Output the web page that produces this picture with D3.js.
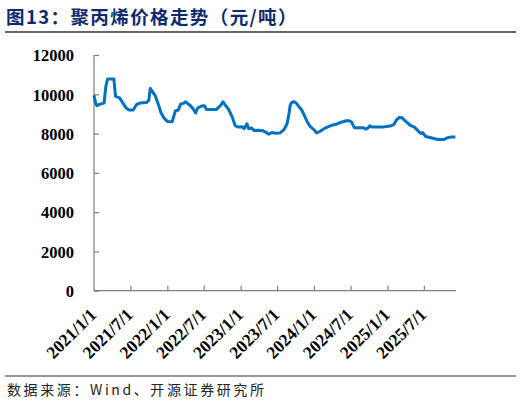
<!DOCTYPE html>
<html><head><meta charset="utf-8">
<script src="https://cdn.jsdelivr.net/npm/d3@7/dist/d3.min.js"></script>
<style>
body{margin:0;background:#fff;}
svg{display:block;}
</style></head>
<body>
<svg id="c" width="522" height="406"></svg>
<script>
const titleText = "图13：聚丙烯价格走势（元/吨）";
const sourceText = "数据来源：Wind、开源证券研究所";
const yTicks = [0, 2000, 4000, 6000, 8000, 10000, 12000];
const xTickLabels = ["2021/1/1","2021/7/1","2022/1/1","2022/7/1","2023/1/1","2023/7/1","2024/1/1","2024/7/1","2025/1/1","2025/7/1"];
const dates = ["2021-01-01","2021-01-08","2021-01-15","2021-02-01","2021-02-20","2021-03-01","2021-03-10","2021-04-10","2021-04-18","2021-05-10","2021-05-25","2021-06-10","2021-06-25","2021-07-15","2021-08-01","2021-08-20","2021-09-20","2021-10-01","2021-10-08","2021-10-20","2021-11-01","2021-11-20","2021-12-01","2021-12-15","2022-01-01","2022-01-25","2022-02-10","2022-02-25","2022-03-08","2022-03-25","2022-04-01","2022-04-10","2022-04-25","2022-05-10","2022-05-22","2022-06-01","2022-06-20","2022-07-05","2022-07-15","2022-09-01","2022-09-25","2022-10-05","2022-10-20","2022-11-01","2022-11-20","2022-12-05","2022-12-20","2023-01-10","2023-01-18","2023-01-25","2023-02-01","2023-02-10","2023-02-25","2023-03-10","2023-04-01","2023-04-20","2023-05-10","2023-05-20","2023-06-05","2023-06-25","2023-07-15","2023-07-25","2023-08-05","2023-08-20","2023-08-28","2023-09-05","2023-09-12","2023-09-25","2023-10-05","2023-10-20","2023-11-01","2023-11-15","2023-12-01","2023-12-15","2024-01-01","2024-01-15","2024-02-01","2024-02-20","2024-03-10","2024-04-01","2024-04-20","2024-05-10","2024-05-25","2024-06-10","2024-06-25","2024-07-05","2024-07-20","2024-08-10","2024-09-01","2024-09-15","2024-09-28","2024-10-05","2024-10-15","2024-11-15","2024-12-15","2025-01-05","2025-01-20","2025-02-01","2025-02-15","2025-03-01","2025-03-15","2025-03-25","2025-04-10","2025-04-25","2025-05-15","2025-06-01","2025-06-15","2025-06-25","2025-07-10","2025-08-01","2025-08-20","2025-09-10","2025-10-10","2025-10-25","2025-11-15","2025-12-05"];
const prices = [9950,9600,9420,9500,9550,10400,10780,10780,9900,9800,9550,9300,9200,9200,9480,9560,9580,9700,10300,10100,9950,9400,9050,8800,8620,8600,9150,9200,9500,9550,9620,9550,9430,9250,9050,9300,9400,9420,9220,9220,9450,9620,9400,9250,8850,8400,8330,8350,8250,8360,8500,8250,8280,8150,8170,8150,8050,7970,8050,8020,8030,8100,8200,8500,8900,9450,9580,9620,9550,9350,9200,8900,8550,8340,8200,8030,8120,8250,8340,8430,8470,8560,8600,8650,8650,8600,8300,8300,8300,8230,8300,8400,8330,8340,8340,8370,8400,8450,8700,8820,8800,8700,8550,8420,8330,8150,8000,8050,7850,7800,7750,7700,7700,7780,7830,7830];

const parse = d3.timeParse("%Y-%m-%d");
const data = dates.map((d,i)=>({date:parse(d), v:prices[i]}));
const tickDates = xTickLabels.map(s=>d3.timeParse("%Y/%m/%d")(s));

const svg = d3.select("#c");
const L = 94, R = 456, T = 55, B = 290.7;

const x = d3.scaleTime().domain([parse("2021-01-01"), parse("2025-12-08")]).range([L, R]);
const y = d3.scaleLinear().domain([0, 12000]).range([B, T]);

// title
svg.append("text").attr("x", 6).attr("y", 24)
  .attr("font-family", "'Noto Sans CJK SC', sans-serif").attr("font-weight", "bold")
  .attr("font-size", 18.5).attr("letter-spacing", 1.4).attr("fill", "#0f2a6b").text(titleText);
svg.append("line").attr("x1",5).attr("x2",516).attr("y1",32).attr("y2",32)
  .attr("stroke","#333").attr("stroke-width",1.3);

// y axis
const yAxis = d3.axisLeft(y).tickValues(yTicks).tickSize(-5).tickPadding(20).tickFormat(d3.format("d"));
const gy = svg.append("g").attr("transform", `translate(${L},0)`).call(yAxis);
gy.select(".domain").attr("stroke","#7f7f7f").attr("stroke-width",1.2).attr("d", `M0,${T}V${B}`);
gy.selectAll(".tick line").attr("stroke","#7f7f7f").attr("stroke-width",1.2);
gy.selectAll(".tick text").attr("font-family","'Liberation Serif', 'Times New Roman', serif")
  .attr("font-weight","bold").attr("font-size",16.5).attr("fill","#000").attr("dy","0.35em");

// x axis
const xAxis = d3.axisBottom(x).tickValues(tickDates).tickSize(-5).tickFormat((d,i)=>xTickLabels[i]);
const gx = svg.append("g").attr("transform", `translate(0,${B})`).call(xAxis);
gx.select(".domain").attr("stroke","#7f7f7f").attr("stroke-width",1.2).attr("d", `M${L},0H${R}`);
gx.selectAll(".tick line").attr("stroke","#7f7f7f").attr("stroke-width",1.2)
  .attr("opacity",(d,i)=>i===0?0:1);
gx.selectAll(".tick text").attr("font-family","'Liberation Serif', 'Times New Roman', serif")
  .attr("font-weight","bold").attr("font-size",17.5).attr("fill","#000")
  .attr("text-anchor","end").attr("dy",null).attr("y",null)
  .attr("transform","translate(3,25) rotate(-45)");

// line
const line = d3.line().x(d=>x(d.date)).y(d=>y(d.v));
svg.append("path").datum(data).attr("d", line).attr("fill","none")
  .attr("stroke","#0070c0").attr("stroke-width",3).attr("stroke-linejoin","round");

// bottom
svg.append("line").attr("x1",5).attr("x2",516).attr("y1",376).attr("y2",376)
  .attr("stroke","#333").attr("stroke-width",1.1);
svg.append("text").attr("x", 7).attr("y", 395)
  .attr("font-family", "'Noto Sans CJK SC', sans-serif")
  .attr("font-size", 14).attr("letter-spacing", 2.6).attr("fill", "#222").text(sourceText);
</script>
</body></html>
